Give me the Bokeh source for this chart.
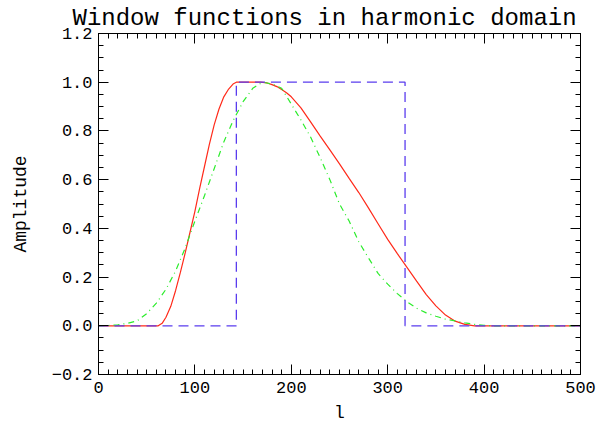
from bokeh.plotting import figure
from bokeh.models import Range1d, FixedTicker, LinearAxis
from bokeh.embed import file_html
from bokeh.resources import INLINE

# ---- data ----
l_red = [0, 62, 66, 70, 75, 80, 85, 90, 95, 100, 105, 110, 115, 120, 125, 130, 135, 140,
         143, 168, 175, 180, 185, 190, 195, 200, 210, 220, 230, 240, 250, 260, 270, 280,
         290, 300, 310, 320, 330, 340, 350, 360, 370, 380, 390, 500]
amp_red = [0, 0, 0.01, 0.035, 0.08, 0.145, 0.22, 0.30, 0.385, 0.47, 0.565, 0.655, 0.745,
           0.825, 0.89, 0.94, 0.972, 0.994, 1.0, 1.0, 0.997, 0.99, 0.982, 0.97, 0.957,
           0.94, 0.895, 0.837, 0.779, 0.722, 0.665, 0.605, 0.547, 0.484, 0.419, 0.355,
           0.296, 0.24, 0.183, 0.128, 0.082, 0.044, 0.019, 0.006, 0.0, 0.0]

l_green = [0, 10, 20, 30, 40, 50, 60, 70, 80, 90, 100, 110, 120, 130, 140, 150, 160, 170,
           180, 190, 200, 210, 220, 230, 240, 250, 260, 270, 280, 290, 300, 310, 320, 330,
           340, 350, 360, 370, 380, 390, 400, 410, 500]
amp_green = [0, 0.001, 0.004, 0.01, 0.02, 0.05, 0.093, 0.15, 0.225, 0.32, 0.43, 0.535,
             0.645, 0.755, 0.845, 0.92, 0.975, 1.0, 0.993, 0.975, 0.91, 0.845, 0.775, 0.69,
             0.60, 0.50, 0.43, 0.345, 0.279, 0.215, 0.171, 0.132, 0.099, 0.072, 0.053,
             0.039, 0.027, 0.02, 0.012, 0.006, 0.002, 0.0, 0.0]

l_blue = [0, 143, 143, 318, 318, 500]
amp_blue = [0, 0, 1, 1, 0, 0]

x_ticks = [0, 100, 200, 300, 400, 500]
x_minor = list(range(0, 501, 10))
y_ticks = [-0.2, 0.0, 0.2, 0.4, 0.6, 0.8, 1.0, 1.2]
y_tick_labels = ["\u22120.2", "0.0", "0.2", "0.4", "0.6", "0.8", "1.0", "1.2"]
y_minor = [round(-0.2 + 0.05 * i, 2) for i in range(29)]

TITLE = "Window functions in harmonic domain"
XLABEL = "l"
YLABEL = "Amplitude"

FONT = "Liberation Mono"

W, H = 607, 427
FRAME_L, FRAME_R, FRAME_T, FRAME_B = 98, 580, 33, 374

p = figure(width=W, height=H, output_backend="svg", toolbar_location=None,
           x_range=Range1d(0, 500), y_range=Range1d(-0.2, 1.2),
           min_border_left=FRAME_L, min_border_right=W - FRAME_R,
           min_border_top=FRAME_T, min_border_bottom=H - FRAME_B, title=TITLE)

p.background_fill_color = "white"
p.border_fill_color = "white"
p.outline_line_color = "black"
p.xgrid.visible = False
p.ygrid.visible = False

p.title.text_font = FONT
p.title.text_font_size = "24px"
p.title.text_font_style = "normal"
p.title.text_color = "black"
p.title.align = "left"
p.title.vertical_align = "top"
p.title.offset = 72 - FRAME_L
p.title.standoff = 0


def style(ax):
    ax.axis_line_color = "black"
    ax.major_tick_line_color = "black"
    ax.minor_tick_line_color = "black"
    ax.major_tick_in = 10
    ax.major_tick_out = 0
    ax.minor_tick_in = 5
    ax.minor_tick_out = 0
    ax.major_label_text_font = FONT
    ax.major_label_text_color = "black"
    ax.axis_label_text_font = FONT
    ax.axis_label_text_font_style = "normal"
    ax.axis_label_text_color = "black"


xa = p.xaxis[0]
xa.ticker = FixedTicker(ticks=x_ticks, minor_ticks=x_minor)
style(xa)
xa.major_label_text_font_size = "17px"
xa.major_label_standoff = 7
xa.axis_label = XLABEL
xa.axis_label_text_font_size = "18px"
xa.axis_label_standoff = 7

ya = p.yaxis[0]
ya.ticker = FixedTicker(ticks=y_ticks, minor_ticks=y_minor)
style(ya)
ya.major_label_text_font_size = "17px"
ya.major_label_standoff = 6
ya.major_label_overrides = dict(zip(y_ticks, y_tick_labels))
ya.axis_label = YLABEL
ya.axis_label_text_font_size = "18px"
ya.axis_label_standoff = 18

# mirrored tick marks on the top and right edges, without labels
xr = LinearAxis(ticker=FixedTicker(ticks=x_ticks, minor_ticks=x_minor))
style(xr)
xr.major_label_overrides = {t: "" for t in x_ticks}
xr.major_label_text_font_size = "1px"
xr.major_label_standoff = 0
p.add_layout(xr, "above")

yr = LinearAxis(ticker=FixedTicker(ticks=y_ticks, minor_ticks=y_minor))
style(yr)
yr.major_label_overrides = {t: "" for t in y_ticks}
yr.major_label_text_font_size = "1px"
yr.major_label_standoff = 0
p.add_layout(yr, "right")

p.line(l_red, amp_red, line_color="#ff2a1a", line_width=1.2)
p.line(l_green, amp_green, line_color="#2cec2c", line_width=1.2, line_dash="6 4 1 4")
p.line(l_blue, amp_blue, line_color="#5a3cee", line_width=1.3, line_dash="10 6")

open("out.html", "w").write(file_html(p, INLINE))
